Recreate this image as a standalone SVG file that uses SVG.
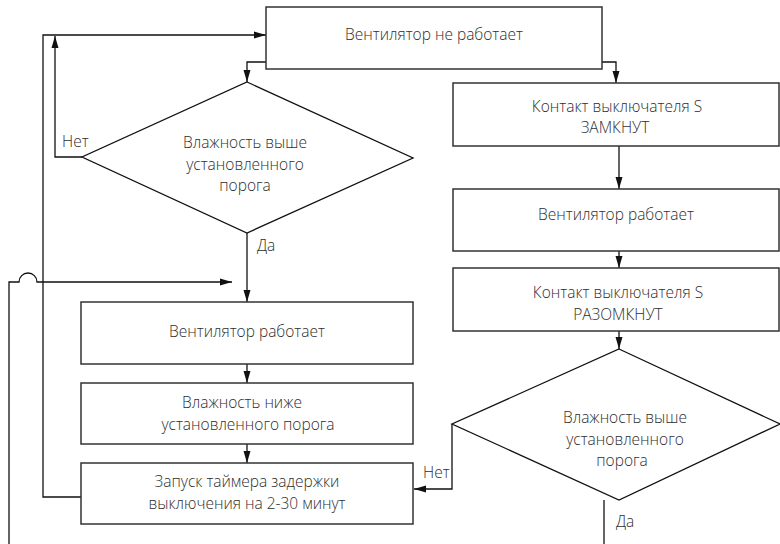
<svg xmlns="http://www.w3.org/2000/svg" width="780" height="544" viewBox="0 0 780 544">
<defs>
<style>
.box{fill:#fff;stroke:#333;stroke-width:1.5}
.dia{fill:#fff;stroke:#111;stroke-width:1.3}
.ln{fill:none;stroke:#111;stroke-width:1.3}
.t{font-family:"Open Sans","Noto Sans","DejaVu Sans",sans-serif;font-size:15.5px;font-weight:300;fill:#2e2e2e;text-anchor:middle}
.l{font-family:"Open Sans","Noto Sans","DejaVu Sans",sans-serif;font-size:15.5px;font-weight:300;fill:#2e2e2e}
</style>
<marker id="ar" markerUnits="userSpaceOnUse" markerWidth="12" markerHeight="8" viewBox="0 0 12 8" refX="12" refY="4" orient="auto">
<path d="M0,0.5 L12,4 L0,7.5 Z" fill="#111"/>
</marker>
</defs>
<rect width="780" height="544" fill="#fff"/>
<g id="connectors">
<path class="ln" d="M266,62 H247 V82" marker-end="url(#ar)"/>
<path class="ln" d="M602,62 H616 V83" marker-end="url(#ar)"/>
<path class="ln" d="M619,146 V189" marker-end="url(#ar)"/>
<path class="ln" d="M619,251 V268" marker-end="url(#ar)"/>
<path class="ln" d="M619,331 V349" marker-end="url(#ar)"/>
<path class="ln" d="M247,233 V302" marker-end="url(#ar)"/>
<path class="ln" d="M247,364 V383" marker-end="url(#ar)"/>
<path class="ln" d="M247,444 V463" marker-end="url(#ar)"/>
<path class="ln" d="M82,157 H55 V36" marker-end="url(#ar)"/>
<path class="ln" d="M81,497 H43 V35 H266" marker-end="url(#ar)"/>
<path class="ln" d="M9,544 V282 H19 A9,9 0 0 1 37,282 H232" marker-end="url(#ar)"/>
<path class="ln" d="M452,424 V489 H414" marker-end="url(#ar)"/>
<path class="ln" d="M604,500 V544"/>
</g>
<g id="n-off">
<rect class="box" x="266" y="7" width="336" height="62"/>
<text class="t" x="434" y="40">Вентилятор не работает</text>
</g>
<g id="n-dec1">
<polygon class="dia" points="247,82 413,158 247,233 82,157"/>
<text class="t" x="245" y="148">Влажность выше</text>
<text class="t" x="245" y="169.5">установленного</text>
<text class="t" x="245" y="191">порога</text>
</g>
<g id="n-run1">
<rect class="box" x="81" y="302" width="332" height="62"/>
<text class="t" x="247" y="337">Вентилятор работает</text>
</g>
<g id="n-below">
<rect class="box" x="81" y="383" width="332" height="61"/>
<text class="t" x="242" y="408">Влажность ниже</text>
<text class="t" x="248" y="430">установленного порога</text>
</g>
<g id="n-timer">
<rect class="box" x="81" y="463" width="332" height="61"/>
<text class="t" x="247" y="487">Запуск таймера задержки</text>
<text class="t" x="247" y="509">выключения на 2-30 минут</text>
</g>
<g id="n-closed">
<rect class="box" x="453" y="83" width="326" height="63"/>
<text class="t" x="617" y="112">Контакт выключателя S</text>
<text class="t" x="615" y="133">ЗАМКНУТ</text>
</g>
<g id="n-run2">
<rect class="box" x="453" y="189" width="326" height="62"/>
<text class="t" x="616" y="220">Вентилятор работает</text>
</g>
<g id="n-open">
<rect class="box" x="453" y="268" width="326" height="63"/>
<text class="t" x="618" y="298">Контакт выключателя S</text>
<text class="t" x="618" y="320">РАЗОМКНУТ</text>
</g>
<g id="n-dec2">
<polygon class="dia" points="619,349 780,424 619,500 452,424"/>
<text class="t" x="625" y="423">Влажность выше</text>
<text class="t" x="625" y="445">установленного</text>
<text class="t" x="622" y="466">порога</text>
</g>
<g id="labels">
<text class="l" x="62" y="147">Нет</text>
<text class="l" x="257" y="251">Да</text>
<text class="l" x="423" y="478">Нет</text>
<text class="l" x="616" y="527">Да</text>
</g>
</svg>
